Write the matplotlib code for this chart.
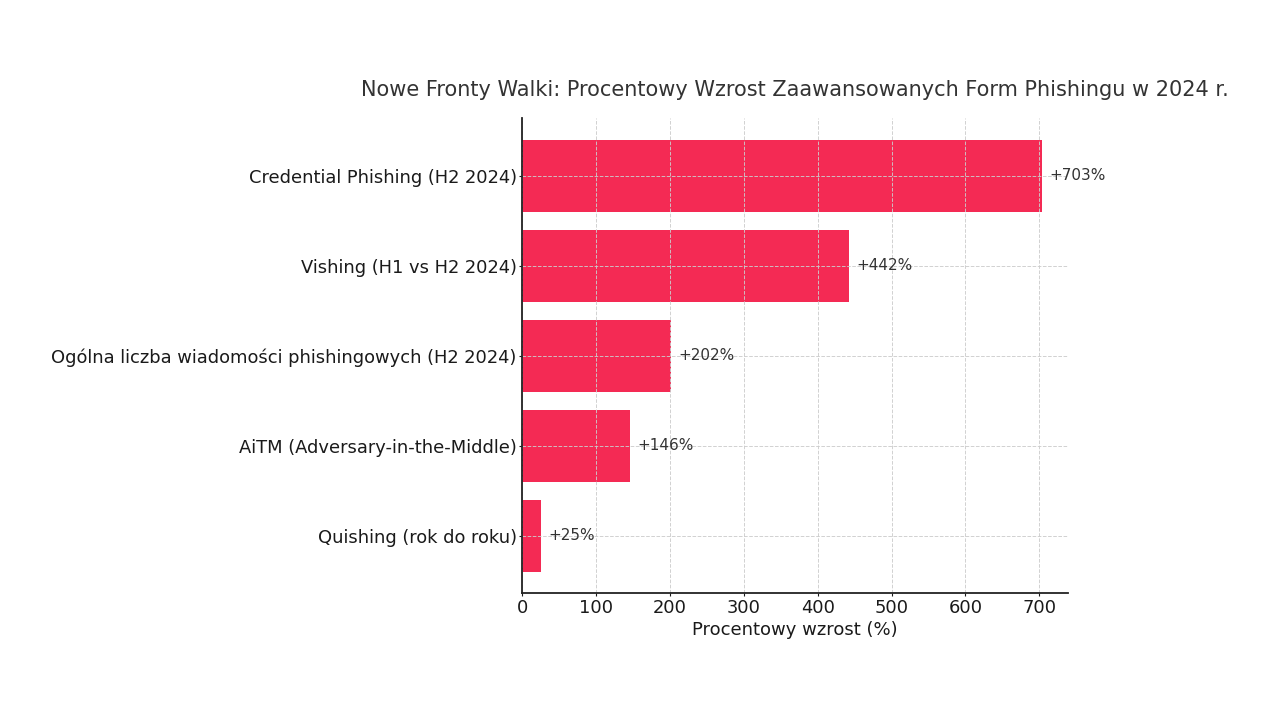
import matplotlib
matplotlib.use("Agg")
import matplotlib.pyplot as plt

# data (bottom to top as drawn)
categories = [
    "Quishing (rok do roku)",
    "AiTM (Adversary-in-the-Middle)",
    "Ogólna liczba wiadomości phishingowych (H2 2024)",
    "Vishing (H1 vs H2 2024)",
    "Credential Phishing (H2 2024)",
]
growth = [25, 146, 202, 442, 703]
value_labels = ["+25%", "+146%", "+202%", "+442%", "+703%"]

fig = plt.figure(figsize=(12.8, 7.2), dpi=100)
ax = fig.add_axes([0.408, 0.176, 0.426, 0.660])

bars = ax.barh(categories, growth, height=0.8, color="#F42A54")

for bar, lab in zip(bars, value_labels):
    ax.text(bar.get_width() + 10, bar.get_y() + bar.get_height() / 2, lab,
            va="center", ha="left", fontsize=11, color="#333333")

ax.grid(True, linestyle="--", linewidth=0.7, color="#cccccc", alpha=0.9)
ax.set_axisbelow(False)

ax.spines["top"].set_visible(False)
ax.spines["right"].set_visible(False)
for side in ["left", "bottom"]:
    ax.spines[side].set_linewidth(1.3)
    ax.spines[side].set_color("#222222")
    ax.spines[side].set_zorder(4)

ax.tick_params(axis="both", labelsize=12.9, colors="#1a1a1a", length=2.5, pad=1.5)
ax.set_xticks([0, 100, 200, 300, 400, 500, 600, 700])

ax.set_xlabel("Procentowy wzrost (%)", fontsize=13, color="#1a1a1a", labelpad=3)
ax.set_title("Nowe Fronty Walki: Procentowy Wzrost Zaawansowanych Form Phishingu w 2024 r.",
             fontsize=15, color="#333333", pad=16)

fig.savefig("out.png", dpi=100)
